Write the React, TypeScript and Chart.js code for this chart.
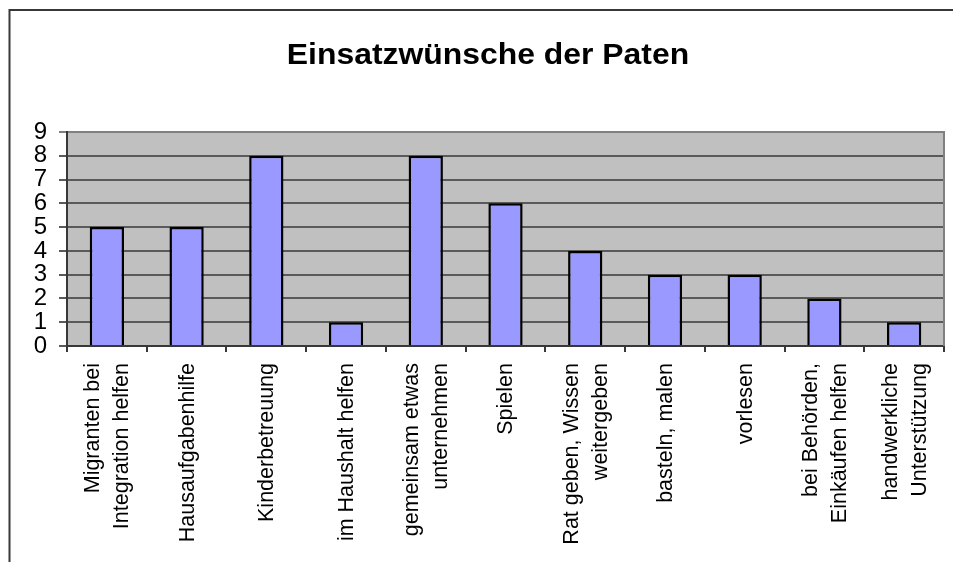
import React, { useEffect, useRef } from "react";
import { Chart, registerables } from "chart.js";

Chart.register(...registerables);

const titleText = "Einsatzwünsche der Paten";
const categoryLines: string[][] = [
  ["Migranten bei", "Integration helfen"],
  ["Hausaufgabenhilfe"],
  ["Kinderbetreuung"],
  ["im Haushalt helfen"],
  ["gemeinsam etwas", "unternehmen"],
  ["Spielen"],
  ["Rat geben, Wissen", "weitergeben"],
  ["basteln, malen"],
  ["vorlesen"],
  ["bei Behörden,", "Einkäufen helfen"],
  ["handwerkliche", "Unterstützung"],
];
const values: number[] = [5, 5, 8, 1, 8, 6, 4, 3, 3, 2, 1];
const yMin = 0;
const yMax = 9;
const yStep = 1;

const FONT = '"Liberation Sans", Arial, sans-serif';

const decorPlugin = {
  id: "decor",
  beforeDraw(chart: any) {
    const { ctx, chartArea } = chart;
    ctx.save();
    ctx.fillStyle = "#ffffff";
    ctx.fillRect(0, 0, chart.width, chart.height);
    ctx.fillStyle = "#C0C0C0";
    ctx.fillRect(chartArea.left, chartArea.top, chartArea.right - chartArea.left, chartArea.bottom - chartArea.top);
    ctx.restore();
  },
  afterDraw(chart: any) {
    const { ctx, chartArea } = chart;
    ctx.save();
    // outer frame
    ctx.strokeStyle = "#383838";
    ctx.lineWidth = 2;
    ctx.beginPath();
    ctx.moveTo(9.5, 570);
    ctx.lineTo(9.5, 10);
    ctx.lineTo(960, 10);
    ctx.stroke();
    // right plot border
    ctx.strokeStyle = "#808080";
    ctx.beginPath();
    ctx.moveTo(chartArea.right, chartArea.top - 1);
    ctx.lineTo(chartArea.right, chartArea.bottom);
    ctx.stroke();
    // title
    ctx.fillStyle = "#000";
    ctx.font = `bold 29px ${FONT}`;
    ctx.textAlign = "center";
    ctx.textBaseline = "alphabetic";
    ctx.translate(488, 64);
    ctx.scale(1.1, 1);
    ctx.fillText(titleText, 0, 0);
    ctx.restore();

    // category labels (rotated)
    const xs = chart.scales.x;
    ctx.save();
    ctx.font = `21.5px ${FONT}`;
    ctx.fillStyle = "#000";
    ctx.textAlign = "right";
    ctx.textBaseline = "middle";
    categoryLines.forEach((lines, i) => {
      const cx = xs.getPixelForValue(i);
      ctx.save();
      ctx.translate(cx, xs.top + 17);
      ctx.rotate(-Math.PI / 2);
      lines.forEach((line, j) => {
        ctx.fillText(line, 0, 1 + (j - (lines.length - 1) / 2) * 29);
      });
      ctx.restore();
    });
    ctx.restore();
  },
};

export default function App() {
  const ref = useRef<HTMLCanvasElement | null>(null);
  useEffect(() => {
    if (!ref.current) return;
    const chart = new Chart(ref.current, {
      type: "bar",
      data: {
        labels: categoryLines.map((l) => l.join(" ")),
        datasets: [
          {
            data: values,
            backgroundColor: "#9999FF",
            borderColor: "#000000",
            borderWidth: 2.5,
            barPercentage: 0.43,
            categoryPercentage: 1,
          },
        ],
      },
      options: {
        animation: false,
        responsive: false,
        devicePixelRatio: 1,
        layout: { padding: { top: 132, right: 9, left: 0, bottom: 0 } },
        plugins: { legend: { display: false }, title: { display: false }, tooltip: { enabled: false } },
        scales: {
          x: {
            afterFit(scale: any) {
              scale.height = 216;
            },
            ticks: { display: false },
            grid: {
              drawOnChartArea: false,
              drawTicks: true,
              tickLength: 6,
              color: "#383838",
              lineWidth: 2,
            },
            border: { display: true, color: "#383838", width: 2 },
          },
          y: {
            min: yMin,
            max: yMax,
            afterFit(scale: any) {
              scale.width = 67;
            },
            ticks: {
              stepSize: yStep,
              autoSkip: false,
              color: "#000",
              padding: 12,
              font: { family: FONT, size: 24 },
            },
            grid: {
              color: (c: any) => (c.tick && c.tick.value === yMax ? "#808080" : "#5a5a5a"),
              lineWidth: 2,
              tickLength: 8,
            },
            border: { display: true, color: "#383838", width: 2 },
          },
        },
      },
      plugins: [decorPlugin],
    });
    return () => chart.destroy();
  }, []);
  return (
    <div style={{ position: "fixed", left: 0, top: 0, width: 953, height: 562 }}>
      <canvas ref={ref} width={953} height={562} style={{ width: 953, height: 562 }} />
    </div>
  );
}
